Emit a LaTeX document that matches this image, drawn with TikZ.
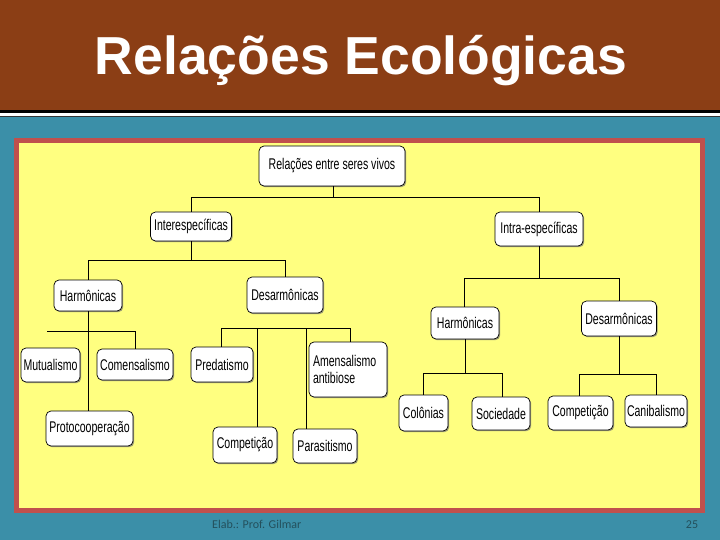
\documentclass[tikz,border=0pt]{standalone}
\usepackage{fontspec}
\setmainfont{Liberation Sans}
\newfontfamily\boxfont{Liberation Sans}[FakeStretch=0.68]
\newfontfamily\footfont{Carlito}
\usepackage{tikz}
\usetikzlibrary{shadows}

\definecolor{titlebrown}{RGB}{139,62,21}
\definecolor{slideteal}{RGB}{59,143,168}
\definecolor{frameRed}{RGB}{192,80,77}
\definecolor{paperYellow}{RGB}{255,255,128}
\definecolor{footGray}{RGB}{36,80,92}

\begin{document}
\begin{tikzpicture}[x=1pt, y=-1pt, line join=miter]
	\tikzstyle{box} = [draw, rounded corners=5pt, fill=white, line width=.7pt, inner sep=2pt, font=\boxfont\fontsize{15.5}{17}\selectfont, drop shadow={shadow xshift=1.2pt, shadow yshift=-1.2pt, fill=black!55, opacity=.7}]
	\tikzstyle{link} = [draw, line width=.8pt]
	\tikzstyle{footer} = [text=footGray, font=\footfont\fontsize{12}{14}\selectfont, inner sep=0pt]
	% slide background
	\useasboundingbox (0,0) rectangle (720,540);
	\fill[slideteal] (0,0) rectangle (720,540);
	\fill[titlebrown] (0,0) rectangle (720,110);
	\fill[black] (0,110) rectangle (720,113);
	\fill[white] (0,113) rectangle (720,116);
	\fill[black!80] (0,116) rectangle (720,117);
	\draw[frameRed, fill=paperYellow, line width=5pt] (16.5,140.5) rectangle (702.5,510.5);
	\node[anchor=base, text=white, font=\bfseries\fontsize{53.5}{60}\selectfont, inner sep=0pt] (title) at (361,75) {Relações Ecológicas};

	% boxes
	\node[box, minimum width=146pt, minimum height=40pt] (root) at (332,166) {Relações entre seres vivos};
	\node[box, minimum width=81pt, minimum height=29pt] (inter) at (191,226.5) {Interespecíficas};
	\node[box, minimum width=88pt, minimum height=34pt] (intra) at (539,229) {Intra-específicas};

	\node[box, minimum width=68pt, minimum height=31pt] (harmL) at (88,295.5) {Harmônicas};
	\node[box, minimum width=76pt, minimum height=36pt] (desL) at (285,295) {Desarmônicas};
	\node[box, minimum width=68pt, minimum height=32pt] (harmR) at (465,323) {Harmônicas};
	\node[box, minimum width=75pt, minimum height=35pt] (desR) at (619,318.5) {Desarmônicas};

	\node[box, minimum width=59pt, minimum height=34pt] (mutual) at (50.5,365) {Mutualismo};
	\node[box, minimum width=76pt, minimum height=31pt] (comens) at (135,364.5) {Comensalismo};
	\node[box, minimum width=87pt, minimum height=35pt] (proto) at (89.5,428.5) {Protocooperação};

	\node[box, minimum width=62pt, minimum height=35pt] (predat) at (222,364.5) {Predatismo};
	\node[box, minimum width=78pt, minimum height=55pt, align=left, text width=70pt] (amens) at (348,369.5) {Amensalismo\\antibiose};
	\node[box, minimum width=64pt, minimum height=36pt] (compL) at (245,445) {Competição};
	\node[box, minimum width=64pt, minimum height=34pt] (parasit) at (325,446) {Parasitismo};

	\node[box, minimum width=49pt, minimum height=36pt] (colon) at (423.5,413) {Colônias};
	\node[box, minimum width=58pt, minimum height=33pt] (socied) at (501,413.5) {Sociedade};
	\node[box, minimum width=65pt, minimum height=34pt] (compR) at (580.5,413) {Competição};
	\node[box, minimum width=62pt, minimum height=32pt] (canib) at (656,411) {Canibalismo};

	% bus levels
	\coordinate (busRoot) at (0,197);
	\coordinate (busInter) at (0,260);
	\coordinate (busIntra) at (0,278);
	\coordinate (busH) at (47,331);
	\coordinate (busD) at (0,328);
	\coordinate (busHR) at (0,373);
	\coordinate (busDR) at (0,374);

	% connectors
	\draw[link] ([xshift=1pt]root.south) -- ([xshift=1pt]root.south |- busRoot);
	\draw[link] (inter.north) |- (intra.north |- busRoot) -- (intra.north);
	\draw[link] (inter.south) -- (inter.south |- busInter);
	\draw[link] (harmL.north) |- (desL.north |- busInter) -- (desL.north);
	\draw[link] (intra.south) -- (intra.south |- busIntra);
	\draw[link] ([xshift=-1pt]harmR.north) |- (desR.north |- busIntra) -- (desR.north);

	\draw[link] (harmL.south) -- (harmL.south |- proto.north);
	\draw[link] (busH) -| (comens.north);

	\draw[link] ([xshift=-1pt]predat.north) |- ([xshift=2pt]amens.north |- busD) -- ([xshift=2pt]amens.north);
	\draw[link] ([xshift=12pt]compL.north) -- ([xshift=12pt]compL.north |- busD);
	\draw[link] ([xshift=-19pt]parasit.north) -- ([xshift=-19pt]parasit.north |- busD);

	\draw[link] (harmR.south) -- (harmR.south |- busHR);
	\draw[link] (colon.north) |- ([xshift=1pt]socied.north |- busHR) -- ([xshift=1pt]socied.north);
	\draw[link] (desR.south) -- (desR.south |- busDR);
	\draw[link] ([xshift=-1.5pt]compR.north) |- (canib.north |- busDR) -- (canib.north);

	% footer
	\node[footer, anchor=base west] (elab) at (212,528) {Elab.: Prof. Gilmar};
	\node[footer, anchor=base] (pagenum) at (692,528) {25};
\end{tikzpicture}
\end{document}
